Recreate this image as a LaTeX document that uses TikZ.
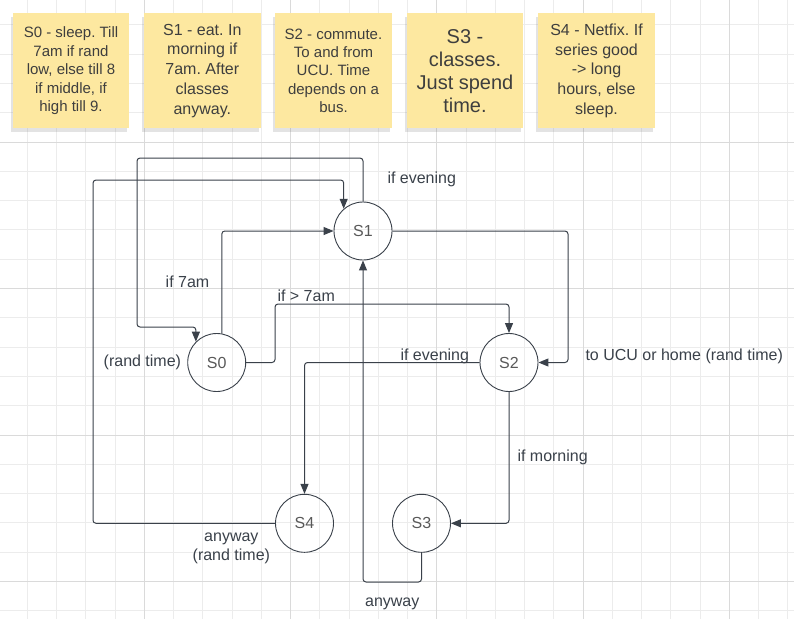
\documentclass[tikz,border=0pt]{standalone}
\usepackage{fontspec}
\setmainfont{Liberation Sans}
\frenchspacing
\usetikzlibrary{arrows.meta, positioning, shadows}

\definecolor{notey}{RGB}{253,232,160}
\definecolor{inkline}{RGB}{58,65,74}
\definecolor{notetext}{RGB}{62,62,62}
\definecolor{gridlo}{RGB}{236,236,236}
\definecolor{gridhi}{RGB}{218,218,218}

\begin{document}
\begin{tikzpicture}[
    x=1pt, y=-1pt,
    state/.style={draw=inkline,circle,line width=0.9pt,minimum size=58pt,inner sep=0pt,
      text=black!65,font=\fontsize{16}{19}\selectfont},
    note/.style={fill=notey,minimum width=116.5pt,minimum height=115pt,align=center,text=notetext,
      drop shadow={shadow xshift=-2pt,shadow yshift=-3.5pt,opacity=0.22}},
    cond/.style={text=inkline,font=\fontsize{16}{19}\selectfont,inner sep=2pt},
    trans/.style={draw=inkline,line width=1pt,rounded corners=3pt,-{Triangle[length=10pt,width=8pt]}}]
  \useasboundingbox (0,0) rectangle (794,619);
  \fill[white] (0,0) rectangle (794,619);
  % grid
  \foreach \i in {0,...,27}
    \draw[gridlo,line width=1pt] ({-2+29.25*\i},0) -- ({-2+29.25*\i},619);
  \foreach \j in {0,...,21}
    \draw[gridlo,line width=1pt] (0,{-4.5+29.3*\j}) -- (794,{-4.5+29.3*\j});
  \foreach \i in {0,...,5}
    \draw[gridhi,line width=1pt] ({-2+146.25*\i},0) -- ({-2+146.25*\i},619);
  \foreach \j in {0,...,4}
    \draw[gridhi,line width=1pt] (0,{-4.5+146.5*\j}) -- (794,{-4.5+146.5*\j});
  % sticky notes
  \node[note,font=\fontsize{15}{18.4}\selectfont] (nzero) at (71,70.8) { S0 - sleep. Till\\7am if rand\\low, else till 8\\if middle, if\\high till 9. };
  \node[note,font=\fontsize{16}{19.8}\selectfont] (none) at (202.3,70.8) { S1 - eat. In\\morning if\\7am. After\\classes\\anyway. };
  \node[note,font=\fontsize{15}{18.4}\selectfont] (ntwo) at (333.5,70.8) { S2 - commute.\\To and from\\UCU. Time\\depends on a\\bus. };
  \node[note,font=\fontsize{20}{23}\selectfont] (nthree) at (465,70.8) { S3 -\\classes.\\Just spend\\time. };
  \node[note,font=\fontsize{16}{19.8}\selectfont] (nfour) at (596.5,70.8) { S4 - Netfix. If\\series good\\-> long\\hours, else\\sleep. };
  % states
  \node[state] (szero) at (216.7,362.5) { S0 };
  \node[state] (sone) at (363,231) { S1 };
  \node[state] (stwo) at (509,362.5) { S2 };
  \node[state] (sthree) at (421.5,523.3) { S3 };
  \node[state] (sfour) at (304.5,523.3) { S4 };
  \node[cond,left=4pt of szero] (lblrand) { (rand time) };
  % transitions
  \draw[trans] (sone.north) |- node[cond,pos=0.25,right=22pt] (lbleva) { if evening } (137,158) -- (137,327) -| (szero.135);
  \draw[trans] (sfour.west) -| node[cond,pos=0.12,below=7pt,align=center] (lblanya) { anyway\\(rand time) } (93,180) -| (sone.131);
  \draw[trans] (szero.80) |- node[cond,pos=0.25,left=10pt] (lblseven) { if 7am } (sone.west);
  \draw[trans] (szero.east) -| (275,304) -| node[cond,pos=0,above right=0pt] (lblgt) { if > 7am } (stwo.north);
  \draw[trans] (sone.east) -| (568,300) |- node[cond,pos=0.5,anchor=base west,xshift=15pt,yshift=2.5pt] (lblucu) { to UCU or home (rand time) } (stwo.east);
  \draw[trans] (stwo.west) -| node[cond,pos=0,anchor=base east,xshift=-8pt,yshift=2.5pt] (lblevb) { if evening } (sfour.north);
  \draw[trans] (stwo.south) |- node[cond,pos=0.25,right=6pt] (lblmorn) { if morning } (sthree.east);
  \draw[trans] (sthree.south) |- node[cond,pos=0.75,below=13pt] (lblanyb) { anyway } (363,582) -- (sone.south);
\end{tikzpicture}
\end{document}
